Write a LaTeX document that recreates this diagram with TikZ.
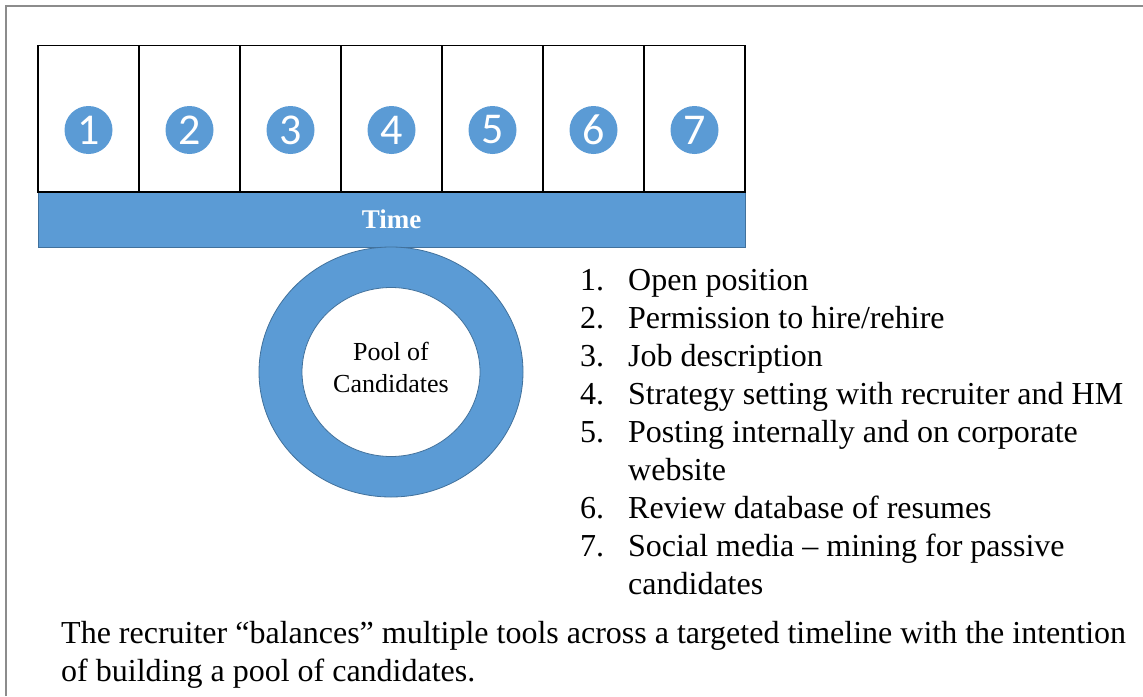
\documentclass[tikz,border=0pt]{standalone}
\usepackage{fontspec}
\setmainfont{Liberation Serif}
\newfontfamily\badgefont{Carlito}
\usetikzlibrary{shapes.geometric}
\definecolor{tlblue}{HTML}{5B9BD5}
\definecolor{tledge}{HTML}{41719C}
\definecolor{framegray}{HTML}{8C8C8C}

\begin{document}
\begin{tikzpicture}[x=1pt,y=-1pt,
  slot/.style={draw=black, line width=1.4pt, minimum width=101pt, minimum height=146.5pt, inner sep=0pt},
  badge/.style={circle, fill=tlblue, minimum size=48pt, inner sep=0pt, text=white,
    font=\badgefont\fontsize{44}{44}\selectfont},
  timebar/.style={draw=tledge, line width=0.8pt, fill=tlblue, minimum width=707pt,
    minimum height=55pt, inner sep=0pt, text=white, font=\fontsize{27}{27}\selectfont\bfseries},
  ring/.style={ellipse, fill=tlblue, draw=tledge, line width=0.8pt, inner sep=0pt},
  listtext/.style={anchor=base west, inner sep=0pt, font=\fontsize{32}{32}\selectfont},
]
\useasboundingbox (0,0) rectangle (1143,696);

% page frame
\draw[framegray, line width=1.5pt] (6,696) -- (6,6) -- (1143,6);

% time bar with the seven steps above it
\node[timebar] (time) at (391.5,219.5) {Time};
\foreach \i in {1,...,7} {
  \node[slot] (slot\i) at ({38+101*(\i-0.5)},118.75) {};
  \node[badge] (badge\i) at ({88.5+101*(\i-1)},130) {\i};
}

% pool of candidates
\node[ring, minimum width=264pt, minimum height=250pt] (pool) at (391,372) {};
\node[ring, fill=white, minimum width=178pt, minimum height=169pt] (poolin) at (pool.center) {};
\node[align=center, inner sep=0pt, font=\fontsize{26}{32}\selectfont] (poollabel)
  at (391,367) {Pool of\\Candidates};

% numbered list of steps
\node[listtext] (n1) at (580,290.0) {1.};
\node[listtext] (t1) at (628,290.0) {Open position};
\node[listtext] (n2) at (580,328.1) {2.};
\node[listtext] (t2) at (628,328.1) {Permission to hire/rehire};
\node[listtext] (n3) at (580,366.2) {3.};
\node[listtext] (t3) at (628,366.2) {Job description};
\node[listtext] (n4) at (580,404.3) {4.};
\node[listtext] (t4) at (628,404.3) {Strategy setting with recruiter and HM};
\node[listtext] (n5) at (580,442.4) {5.};
\node[listtext] (t5) at (628,442.4) {Posting internally and on corporate};
\node[listtext] (t5b) at (628,480.5) {website};
\node[listtext] (n6) at (580,518.6) {6.};
\node[listtext] (t6) at (628,518.6) {Review database of resumes};
\node[listtext] (n7) at (580,556.7) {7.};
\node[listtext] (t7) at (628,556.7) {Social media -- mining for passive};
\node[listtext] (t7b) at (628,594.8) {candidates};

% closing note
\node[listtext] (note1) at (61,643) {The recruiter ``balances'' multiple tools across a targeted timeline with the intention};
\node[listtext] (note2) at (61,681) {of building a pool of candidates.};
\end{tikzpicture}
\end{document}
